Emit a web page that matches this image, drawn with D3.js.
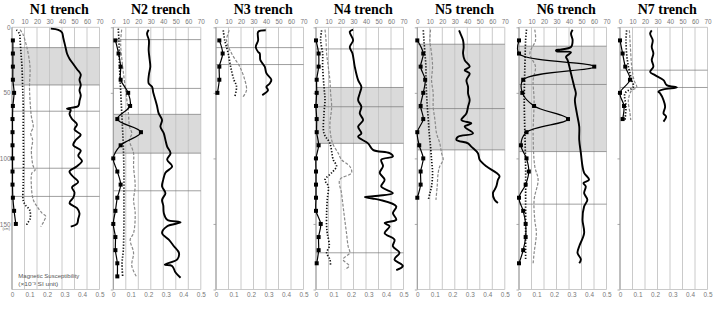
<!DOCTYPE html>
<html><head><meta charset="utf-8">
<script src="https://cdn.jsdelivr.net/npm/d3@7"></script>
<style>body{margin:0;background:#fff}svg{display:block}
.ttl{font-family:"Liberation Serif","Times New Roman",Times,serif;font-weight:bold;}
</style>
</head><body><svg id="c" width="714" height="329"></svg>
<script>
// ---------- labels / ticks ----------
const titles = ["N1 trench","N2 trench","N3 trench","N4 trench","N5 trench","N6 trench","N7 trench"];
const topTicks = [0,10,20,30,40,50,60,70];
const bottomTicks = [0,0.1,0.2,0.3,0.4,0.5];
const depthTicks = [0,50,100,150];
const depthAxisTicks = [0,50,100,150,200];
const legendLines = ["Magnetic Susceptibility","(\u00d710\u207b\u00b3 SI unit)"];

// ---------- data: [depth cm, value] ----------
// MS = square-marker series (bottom axis 0-0.5); thick/dotted/dashed on top axis 0-70
const n1MS = [[10,0.005],[20,0.005],[30,0.005],[40,0.005],[50,0.012],[60,0.005],[70,0.003],[80,0.003],[90,0.003],[100,0.003],[110,0.003],[120,0.003],[130,0.005],[140,0.012],[150,0.022]];
const n1Dot = [[2,3.5],[5,6],[10,6.5],[20,7.2],[30,8],[45,8.5],[60,9],[80,9],[100,9.2],[120,9],[132,9],[136,11],[139,14],[146,14.5],[150,12],[152,11.5]];
const n1Dash = [[1.8,6.4],[4.8,8.5],[15,11.8],[30,14.4],[45,14],[55.5,14.4],[68,15.5],[76,17],[81,15],[86,16.5],[93.5,15.5],[101,16],[106,17],[109,18.5],[111,16],[121,15.5],[131.5,17],[136.6,20],[141.7,24],[144,27],[147,26],[149,25],[152,23]];
const n1Thick = [[1,31],[2,37],[4,40],[8,41],[12,42],[16,43],[20,44],[24,46],[28,49],[32,52],[36,55],[40,54],[44,55],[48,54],[52,55],[56,54],[60,53],[62,44],[63,47],[66,46],[70,48],[74,52],[78,50],[82,55],[86,51],[90,49],[94,55],[98,53],[102,56],[106,52],[110,46],[114,49],[118,53],[122,48],[126,50],[130,49],[134,46],[138,52],[142,54],[146,53],[150,52],[152,47]];

const n2MS = [[10,0.012],[20,0.03],[30,0.042],[40,0.042],[50,0.085],[60,0.096],[70,0.023],[80,0.158],[90,0.042],[100,0],[110,0.023],[120,0.042],[130,0.023],[140,0.012],[150,0],[160,0.012],[170,0.012],[180,0.023],[190,0.023]];
const n2Dot = [[1,4],[10,4.5],[30,5],[50,6],[70,7],[90,8],[110,8.5],[130,8.5],[150,8.5],[170,8],[180,7],[190,7.5]];
const n2Dash = [[1.8,6.7],[12.4,5.9],[30,7.5],[50.4,10.2],[65.7,12.1],[75.8,13],[81,14.8],[86,12.9],[96,16.2],[106,16.2],[121.4,17.5],[131.6,16.2],[141.7,17.5],[157,16.2],[162,13.5],[172,16.2],[182,14.8],[191,19]];
const n2Thick = [[1.8,28.3],[4.8,27],[10,28.5],[17.5,28.3],[24,29],[30,29.6],[36,28.5],[42.8,28.3],[45.4,31],[50,32],[55.5,33.7],[60,35],[65.7,36.3],[70.7,39],[75.8,37.7],[80.9,40.4],[85.9,41.7],[91,43.1],[96,45.8],[101,43.1],[106,47.1],[111,41.7],[116,40],[121.4,39],[126.5,41.7],[131.6,39],[136,40],[141.7,40.4],[146.8,43.1],[148.8,53.8],[151.8,43.1],[156.9,39],[162,44.4],[167,48.5],[172,52.5],[177,51.2],[181,41.2],[182,47],[187,49.8],[191,53.8]];

const n3MS = [[10,0.019],[20,0.038],[30,0.019],[40,0.019],[50,0.008]];
const n3Dot = [[2.3,5.8],[10,7],[20,9.8],[30,11.7],[40,14.3],[45,16.4],[53,15]];
const n3Dash = [[2.3,10.6],[10,8.5],[20,12.5],[30,19],[40,23],[48,24.4],[53,21.7]];
const n3Thick = [[2.3,39.8],[3.5,33.7],[10,33.7],[15,31.8],[18.8,33.7],[20,35],[25,35.5],[30,39],[35,40.3],[40,44.3],[42.8,43],[45.4,40.3],[48,41.6],[51.7,37]];

const n4MS = [[10,0],[20,0.015],[30,0.015],[40,0.004],[50,0.004],[60,0],[70,0.004],[80,0.004],[90,0.015],[100,0],[110,0],[120,0],[130,0],[140,0],[150,0.027],[160,0.015],[170,0.015],[180,0.004]];
const n4Dot = [[2.3,4.5],[9.9,3.7],[20,5.3],[30,5.3],[45.4,6.4],[55.5,7.2],[65.7,6.4],[80.9,6.4],[88.5,11.1],[101,13.8],[106,16.4],[111,12.5],[116.3,7.2],[121.4,9.8],[131.6,9],[141.7,8.5],[151.8,8.5],[157,9],[167,10.6],[172,8.5],[177,11.1],[182,11.7]];
const n4Dash = [[1.8,7.2],[9.9,8],[20,8.5],[30,9.8],[40.3,11.1],[50.4,11.7],[60.6,12.5],[75.8,11.1],[88.5,13.3],[96,17.8],[101,20.4],[106,27],[111,28.4],[116.3,19],[126.5,20.4],[136.6,21.7],[146.8,23],[157,24.4],[167,25.7],[172,27],[177,21.7],[182,26.5],[184.8,23]];
const n4Thick = [[1.8,29.7],[3.5,27],[9.9,29.7],[15,27],[20,29.2],[30,31],[40.3,33.7],[45.4,36.3],[50.4,35],[55.5,33.7],[60.6,36.3],[65.7,35],[70.7,37.7],[75.8,33.7],[80.9,36.3],[83.4,33.7],[88.5,41.6],[93.5,45.6],[96,58.9],[98.6,61.5],[101,52.2],[106,53.6],[111,51],[116.3,54.9],[121.4,52.2],[126.5,61.5],[128.5,50],[129.5,39],[130.6,45],[131.6,51],[136.6,64.2],[141.7,61.5],[146.8,64.2],[149.3,54.9],[151.8,58.9],[157,54.9],[162,62.8],[167,61.5],[172,66.8],[177,62.8],[182,69.5],[185.3,64.2]];

const n5MS = [[10,0],[20,0.034],[30,0.019],[40,0.045],[50,0.034],[60,0.019],[70,0.034],[80,0],[90,0.011],[100,0.034],[110,0.019],[120,0.019],[130,0]];
const n5Dot = [[2.3,4.8],[9.9,5.3],[20,6.1],[30,6.9],[40.3,6.9],[50.4,7.4],[60.6,8],[70.7,8.8],[80.9,9.5],[91,10.6],[101,11.4],[111,12.2],[121.4,11.4],[126.5,10.1],[131.6,8.8]];
const n5Dash = [[1.8,10.6],[9.9,10.1],[20,11.4],[30,12.2],[40.3,11.4],[50.4,12.7],[60.6,12.7],[70.7,14.1],[80.9,15.4],[88.5,18],[96,19.4],[101,20.7],[106,18],[111,16.7],[121.4,15.9],[131.6,14.9]];
const n5Thick = [[2.3,33.4],[4.8,34.5],[9.9,36.6],[15,37.1],[20,36.6],[25,37.9],[30,41.9],[32.7,37.9],[35.2,41.9],[40.3,39.3],[45.4,40.6],[50.4,40.6],[55.5,41.9],[60.6,40.6],[65.7,39.3],[70.7,35.3],[73.3,43.2],[75.8,37.9],[80.9,44.6],[83.4,32.6],[85.9,31.3],[88.5,40.6],[91,43.2],[96,48.5],[101,49.9],[106,55.2],[111,63.2],[113.5,65.8],[116.3,64.5],[121.4,63.2],[124,61.8],[126.5,60.5],[131.6,61.8],[134,64.5]];

const n6MS = [[10,0],[20,0],[30,0.43],[40,0.024],[50,0.019],[60,0.086],[70,0.28],[80,0.043],[90,0.011],[100,0.043],[110,0.056],[120,0.038],[130,0],[140,0.024],[150,0.038],[160,0.038],[170,0.024],[180,0]];
const n6Dot = [[1.8,6],[10,5.3],[30,4.7],[55.5,4.2],[81,4.7],[106,5.3],[131.6,5.3],[157,5.3],[177,5.3]];
const n6Dash = [[1.8,12.6],[9.9,13.2],[20,8.7],[30,13.2],[40.3,11.3],[55.5,12.1],[81,11.3],[106,12.6],[116.3,15.3],[131.6,12.1],[146.8,12.6],[157,13.9],[172,12.1],[180,11.3]];
const n6Thick = [[1.8,42.9],[4.8,41.6],[9.9,42.9],[15,41.6],[17,33],[17.5,29.7],[18.3,30],[19,41.6],[22.6,37.6],[25,38.9],[30,40.3],[35.2,41.6],[40.3,42.9],[45.4,44.2],[50.4,45.5],[55.5,44.7],[65.7,46.3],[75.8,48.2],[86,48.2],[96,49.5],[106,50.8],[111,52.1],[116.3,56],[118.8,51.6],[121.4,53.4],[126.5,52.1],[131.6,54.7],[136.6,52.1],[146.8,50.8],[157,52.1],[167,48.2],[172,46.8],[177,49.5],[180,48.2]];

const n7MS = [[10,0],[20,0.015],[30,0.03],[40,0.057],[50,0],[60,0.023],[70,0.015]];
const n7Dot = [[2.3,5.3],[9.9,4.8],[20,5.3],[30,6.7],[40.3,9.4],[45.4,10.7],[50.4,4],[60.6,4.8],[70.7,4]];
const n7Dash = [[2.3,7.5],[9.9,8],[20,8.6],[30,9.4],[40.3,11.2],[45.9,13.4],[48,9.4],[55.5,6.7],[65.7,8],[70.7,8.6]];
const n7Thick = [[2.3,25.4],[4.8,24.1],[9.9,26.2],[15,25.4],[20,26.7],[25,25.4],[30,26.7],[34,24.1],[36.5,28],[40.3,34.8],[44.1,37.4],[45.9,45.5],[47.4,34.8],[49.2,30.7],[50.4,32.1],[55.5,34.8],[60.6,36.1],[65.7,34.8],[68.2,36.9],[72,34.8]];

// layer boundaries (cm) and shaded units
const bands = [[[15.5,44]],[[66.4,96]],[],[[45.9,88.5]],[[12.9,93.5]],[[14.4,94.8]],[]];
const layerLines = [[15.5,44,64,107.5,129],[9.4,46.6,66.4,96,124.7],[15.5,28.4],[16.5,45.9,60.6,88.5,172],[12.9,62,93.5],[14.4,43.6,94.8,134.9],[32.7,45.9]];

const msSeries = [n1MS,n2MS,n3MS,n4MS,n5MS,n6MS,n7MS];
const dotSeries = [n1Dot,n2Dot,n3Dot,n4Dot,n5Dot,n6Dot,n7Dot];
const dashSeries = [n1Dash,n2Dash,n3Dash,n4Dash,n5Dash,n6Dash,n7Dash];
const thickSeries = [n1Thick,n2Thick,n3Thick,n4Thick,n5Thick,n6Thick,n7Thick];

// ---------- layout ----------
const lefts = [12,113.3,216,316,417.3,519,620];
const W = 87.5;
const svg = d3.select("#c");
const y = d3.scaleLinear().domain([0,200]).range([27.3,289.5]);
const xTop = d3.scaleLinear().domain([0,70]).range([0,W]);
const xBot = d3.scaleLinear().domain([0,0.5]).range([0,W]);
const curve = d3.curveCatmullRom.alpha(0.5);
const lineTop = d3.line().x(d=>xTop(d[1])).y(d=>y(d[0])).curve(curve);
const lineBot = d3.line().x(d=>xBot(d[1])).y(d=>y(d[0])).curve(curve);
const sans = "Liberation Sans, Arial, sans-serif";

titles.forEach((t,i)=>{
  const g = svg.append("g").attr("transform",`translate(${lefts[i]},0)`);
  g.selectAll(".band").data(bands[i]).join("rect")
    .attr("x",0).attr("width",W)
    .attr("y",d=>y(d[0])).attr("height",d=>y(d[1])-y(d[0]))
    .attr("fill","#dadada");
  g.selectAll(".grid").data(topTicks).join("line")
    .attr("x1",d=>xTop(d)).attr("x2",d=>xTop(d))
    .attr("y1",y(0)).attr("y2",y(200))
    .attr("stroke","#c4c4c4").attr("stroke-width",0.9);
  [0,200].forEach(v=>g.append("line").attr("x1",0).attr("x2",W)
    .attr("y1",y(v)).attr("y2",y(v)).attr("stroke","#c4c4c4").attr("stroke-width",0.9));
  g.selectAll(".lay").data(layerLines[i]).join("line")
    .attr("x1",0).attr("x2",W).attr("y1",d=>y(d)).attr("y2",d=>y(d))
    .attr("stroke","#777").attr("stroke-width",0.7);
  const at = g.append("g").attr("transform",`translate(0,${y(0)-1})`)
    .call(d3.axisTop(xTop).tickValues(topTicks).tickSize(0).tickPadding(2));
  const ab = g.append("g").attr("transform",`translate(0,${y(200)+1})`)
    .call(d3.axisBottom(xBot).tickValues(bottomTicks).tickSize(0).tickPadding(2).tickFormat(d=>d===0?"0":d3.format(".1f")(d)));
  const al = g.append("g")
    .call(d3.axisLeft(y).tickValues(i===0?depthTicks:depthAxisTicks).tickSize(i===0?0:2.5).tickPadding(1.5).tickFormat(d=>i===0?d:""));
  [at,ab,al].forEach(a=>{
    a.select(".domain").remove();
    a.selectAll("text").attr("font-family",sans).attr("font-size",6.4).attr("fill","#777");
    a.selectAll("line").attr("stroke","#888").attr("stroke-width",0.7);
  });
  g.append("line").attr("x1",0).attr("x2",0).attr("y1",y(0)).attr("y2",y(200))
    .attr("stroke","#999").attr("stroke-width",1);
  if(i===0){
    g.append("text").attr("x",-2).attr("y",y(150)+6.5).attr("text-anchor","end")
      .attr("font-family",sans).attr("font-size",3.8).attr("fill","#666").text("(cm)");
    g.selectAll(".leg").data(legendLines).join("text")
      .attr("x",6.3).attr("y",(d,k)=>278.3+k*7.3)
      .attr("font-family",sans).attr("font-size",6.2).attr("fill","#555")
      .attr("textLength",(d,k)=>k===0?61:40).attr("lengthAdjust","spacingAndGlyphs")
      .text(d=>d);
  }
  g.append("path").attr("d",lineTop(dashSeries[i])).attr("fill","none")
    .attr("stroke","#8a8a8a").attr("stroke-width",1.2).attr("stroke-dasharray","3,1.6");
  g.append("path").attr("d",lineTop(dotSeries[i])).attr("fill","none")
    .attr("stroke","#111").attr("stroke-width",1.7).attr("stroke-dasharray","1.3,1.7");
  g.append("path").attr("d",lineTop(thickSeries[i])).attr("fill","none")
    .attr("stroke","#000").attr("stroke-width",1.9).attr("stroke-linejoin","round");
  g.append("path").attr("d",lineBot(msSeries[i])).attr("fill","none")
    .attr("stroke","#000").attr("stroke-width",1.2);
  g.selectAll(".sq").data(msSeries[i]).join("rect")
    .attr("x",d=>xBot(d[1])-2).attr("y",d=>y(d[0])-2).attr("width",4).attr("height",4)
    .attr("fill","#000");
  svg.append("text").attr("class","ttl").attr("x",lefts[i]+W/2+3.5).attr("y",14).attr("text-anchor","middle")
    .attr("font-size",14).attr("fill","#000").text(t);
});
</script></body></html>
